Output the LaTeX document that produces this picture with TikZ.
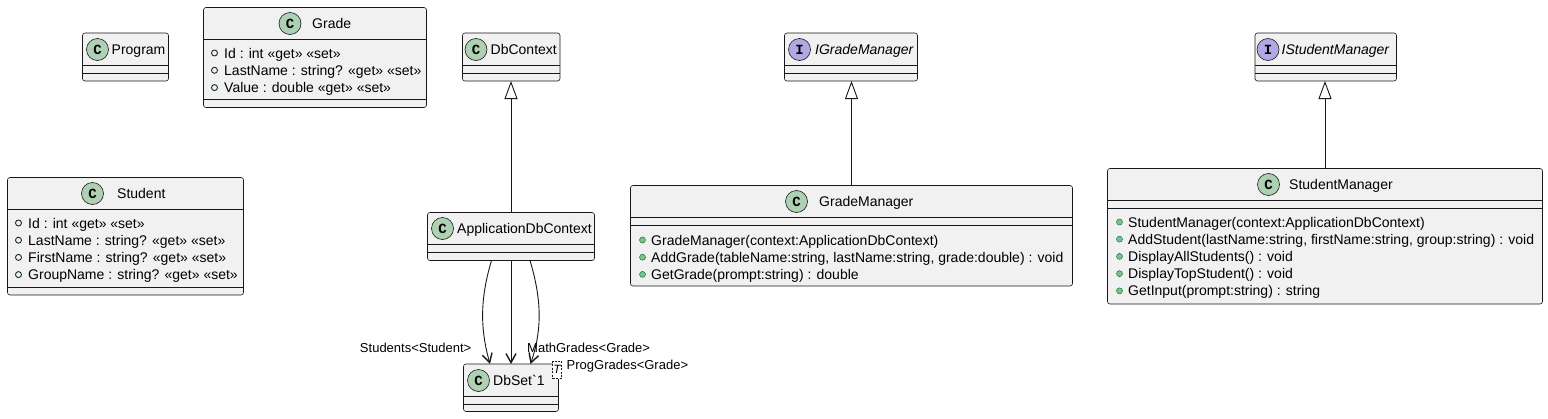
\documentclass[tikz,border=0pt]{standalone}
\usepackage{fontspec}
\setmainfont{Liberation Sans}
\newfontfamily\spotfont{Liberation Mono}
\font\gravefont="Liberation Sans" at 14pt
\usetikzlibrary{arrows.meta}
\definecolor{boxfill}{HTML}{F1F1F1}
\definecolor{boxline}{HTML}{181818}
\definecolor{spotc}{HTML}{ADD1B2}
\definecolor{spoti}{HTML}{B4A7E5}
\definecolor{visline}{HTML}{038048}
\definecolor{visfill}{HTML}{84BE84}
\tikzset{
  cbox/.style={draw=boxline, fill=boxfill, line width=0.6pt, rounded corners=2.5pt, inner sep=0pt, outer sep=0pt},
  sepline/.style={draw=boxline, line width=0.6pt},
  spotC/.style={circle, draw=boxline, line width=0.6pt, fill=spotc, minimum size=22pt, inner sep=0pt, font=\spotfont\bfseries\fontsize{14}{14}\selectfont},
  spotI/.style={spotC, fill=spoti},
  hdr/.style={anchor=base west, inner sep=0pt, font=\fontsize{14}{16}\selectfont},
  memb/.style={anchor=base west, inner sep=0pt, font=\fontsize{14}{16}\selectfont},
  lbl/.style={inner sep=0pt, font=\fontsize{13}{15}\selectfont},
  fieldicon/.style={draw=boxline!80!visline, line width=0.9pt},
  methicon/.style={draw=visline, fill=visfill, line width=0.5pt},
  inherit/.style={draw=boxline, line width=0.9pt, -{Triangle[length=18pt,width=13pt,fill=white,line width=0.9pt]}},
  assoc/.style={draw=boxline, line width=0.9pt, -{Straight Barb[length=9pt,width=10pt,line width=1.4pt]}},
  tmpl/.style={draw=boxline, dashed, dash pattern=on 2pt off 1.5pt, fill=white, line width=0.6pt, inner sep=0pt, minimum width=9pt, minimum height=17.5pt, font=\itshape\fontsize{12}{12}\selectfont},
}
% name, left, top, right, bottom, sep1 offset, sep2 offset
\newcommand\clsbox[7]{%
  \node[cbox, minimum width={#4pt-#2pt}, minimum height={#5pt-#3pt}] (#1) at ({(#2+#4)/2},{(#3+#5)/2}) {};
  \draw[sepline] ([yshift=-#6pt]#1.north west) -- ([yshift=-#6pt]#1.north east);
  \draw[sepline] ([yshift=-#7pt]#1.north west) -- ([yshift=-#7pt]#1.north east);
}
% name, left x, center y, text
\newcommand\fieldrow[4]{%
  \draw[fieldicon] (#2+11,#3) circle[radius=3pt];
  \node[memb] (#1) at (#2+20.5,#3+5) {#4};
}
\newcommand\methrow[4]{%
  \draw[methicon] (#2+12,#3) circle[radius=3pt];
  \node[memb] (#1) at (#2+20.5,#3+5) {#4};
}
\begin{document}
\begin{tikzpicture}[x=1pt,y=-1pt]
\useasboundingbox (0,0) rectangle (1548,418);

% Program
\clsbox{prog}{82.5}{33}{168.5}{81}{32.5}{40.3}
\node[spotC] (progS) at (97.5,49.5) {C};
\node[hdr] (progN) at (111.5,54.5) {Program};

% Grade
\clsbox{grade}{203.5}{7.5}{426.5}{107.5}{32}{91.5}
\node[spotC] (gradeS) at (290,23.5) {C};
\node[hdr] (gradeN) at (312,28.5) {Grade};
\fieldrow{g1}{203.5}{53}{Id : int «get» «set»}
\fieldrow{g2}{203.5}{70.3}{LastName : string? «get» «set»}
\fieldrow{g3}{203.5}{87.6}{Value : double «get» «set»}

% Student
\clsbox{stud}{7.5}{177.5}{243.5}{295}{32}{109.5}
\node[spotC] (studS) at (92.5,193.5) {C};
\node[hdr] (studN) at (117,198.5) {Student};
\fieldrow{s1}{7.5}{223}{Id : int «get» «set»}
\fieldrow{s2}{7.5}{240.2}{LastName : string? «get» «set»}
\fieldrow{s3}{7.5}{257.4}{FirstName : string? «get» «set»}
\fieldrow{s4}{7.5}{274.6}{GroupName : string? «get» «set»}

% DbContext
\clsbox{dbctx}{462.5}{33}{560}{81}{32.5}{40.3}
\node[spotC] (dbctxS) at (476,49.5) {C};
\node[hdr] (dbctxN) at (490.5,54.5) {DbContext};

% IGradeManager
\clsbox{igm}{784.5}{33}{917.5}{81}{32.5}{40.3}
\node[spotI] (igmS) at (799.5,49.5) {I};
\node[hdr] (igmN) at (815,54.5) {\itshape IGradeManager};

% IStudentManager
\clsbox{ism}{1255}{33}{1396.5}{81}{32.5}{40.3}
\node[spotI] (ismS) at (1268,49.5) {I};
\node[hdr] (ismN) at (1281.5,54.5) {\itshape IStudentManager};

% ApplicationDbContext
\clsbox{appctx}{427.5}{212.5}{594.5}{260.5}{32}{40}
\node[spotC] (appctxS) at (442.5,228.5) {C};
\node[hdr] (appctxN) at (457,233.5) {ApplicationDbContext};

% DbSet`1
\clsbox{dbset}{463.5}{364}{558.5}{411.5}{32.5}{40}
\node[spotC] (dbsetS) at (478.5,380.5) {C};
\node[hdr] (dbsetN) at (493,385.5) {DbSet{\gravefont\char96}1};
\node[tmpl] (dbsetT) at (557,369.75) {T};

% GradeManager
\clsbox{gm}{630.5}{185.5}{1072.5}{286}{32}{40}
\node[spotC] (gmS) at (796.5,201.5) {C};
\node[hdr] (gmN) at (819,206.5) {GradeManager};
\methrow{m1}{630.5}{240}{GradeManager(context:ApplicationDbContext)}
\methrow{m2}{630.5}{257.2}{AddGrade(tableName:string, lastName:string, grade:double) : void}
\methrow{m3}{630.5}{274.4}{GetGrade(prompt:string) : double}

% StudentManager
\clsbox{sm}{1107.5}{168.5}{1542.5}{304}{31.5}{40}
\node[spotC] (smS) at (1268.5,184.5) {C};
\node[hdr] (smN) at (1289,189.5) {StudentManager};
\methrow{n1}{1107.5}{222}{StudentManager(context:ApplicationDbContext)}
\methrow{n2}{1107.5}{239.2}{AddStudent(lastName:string, firstName:string, group:string) : void}
\methrow{n3}{1107.5}{256.4}{DisplayAllStudents() : void}
\methrow{n4}{1107.5}{273.6}{DisplayTopStudent() : void}
\methrow{n5}{1107.5}{290.8}{GetInput(prompt:string) : string}

% inheritance
\draw[inherit] (appctx.north) -- (appctx.north |- dbctx.south);
\draw[inherit] (gm.north) -- (gm.north |- igm.south);
\draw[inherit] (sm.north) -- (sm.north |- ism.south);

% associations
\draw[assoc] ([xshift=64pt]appctx.south west) .. controls ([xshift=52pt,yshift=-40pt]appctx.south west) and ([xshift=17pt,yshift=34pt]dbset.north west) .. ([xshift=26.5pt]dbset.north west);
\draw[assoc] (appctx.south) -- (appctx.south |- dbset.north);
\draw[assoc] ([xshift=102.5pt]appctx.south west) .. controls ([xshift=114.5pt,yshift=-40pt]appctx.south west) and ([xshift=78.5pt,yshift=34pt]dbset.north west) .. ([xshift=67pt]dbset.north west);

\node[lbl, anchor=base east] (lstud) at (471.5,352.5) {Students<Student>};
\node[lbl, anchor=base west] (lmath) at (527,352.5) {MathGrades<Grade>};
\node[lbl, anchor=base west] (lprog) at (566.5,369.5) {ProgGrades<Grade>};
\end{tikzpicture}
\end{document}
